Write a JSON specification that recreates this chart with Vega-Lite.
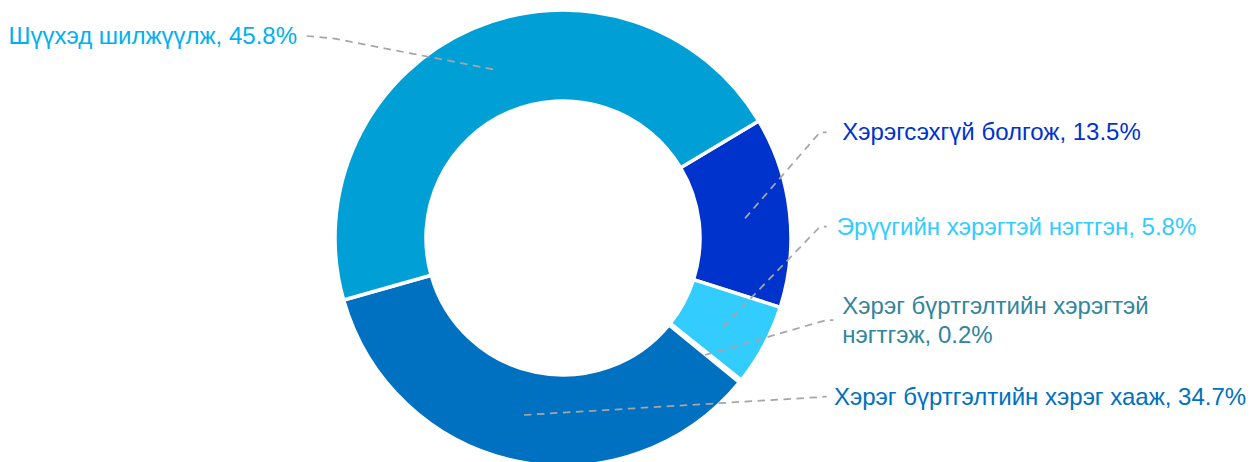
{
  "$schema": "https://vega.github.io/schema/vega-lite/v6.json",
  "width": 1258,
  "height": 462,
  "autosize": {"type": "none"},
  "padding": 0,
  "background": "white",
  "config": {"view": {"stroke": null}},
  "datasets": {
    "shares": [
      {"idx": 1, "category": "Хэрэгсэхгүй болгож", "value": 13.5},
      {"idx": 2, "category": "Эрүүгийн хэрэгтэй нэгтгэн", "value": 5.8},
      {"idx": 3, "category": "Хэрэг бүртгэлтийн хэрэгтэй нэгтгэж", "value": 0.2},
      {"idx": 4, "category": "Хэрэг бүртгэлтийн хэрэг хааж", "value": 34.7},
      {"idx": 5, "category": "Шүүхэд шилжүүлж", "value": 45.8}
    ],
    "labels": [
      {"category": "Шүүхэд шилжүүлж", "label": "Шүүхэд шилжүүлж, 45.8%", "side": "left", "lx": -266, "ly": 200.7},
      {"category": "Хэрэгсэхгүй болгож", "label": "Хэрэгсэхгүй болгож, 13.5%", "side": "right", "lx": 279.3, "ly": 104.7},
      {"category": "Эрүүгийн хэрэгтэй нэгтгэн", "label": "Эрүүгийн хэрэгтэй нэгтгэн, 5.8%", "side": "right", "lx": 273.7, "ly": 9.7},
      {"category": "Хэрэг бүртгэлтийн хэрэгтэй нэгтгэж", "label": "Хэрэг бүртгэлтийн хэрэгтэй\nнэгтгэж, 0.2%", "side": "right", "lx": 279.3, "ly": -68.7},
      {"category": "Хэрэг бүртгэлтийн хэрэг хааж", "label": "Хэрэг бүртгэлтийн хэрэг хааж, 34.7%", "side": "right", "lx": 271, "ly": -160.3}
    ],
    "leaders": [
      {"category": "Шүүхэд шилжүүлж", "pt": 1, "lx": -70, "ly": 168.7},
      {"category": "Шүүхэд шилжүүлж", "pt": 2, "lx": -230, "ly": 199.7},
      {"category": "Шүүхэд шилжүүлж", "pt": 3, "lx": -256.3, "ly": 202},
      {"category": "Хэрэгсэхгүй болгож", "pt": 1, "lx": 182, "ly": 19.7},
      {"category": "Хэрэгсэхгүй болгож", "pt": 2, "lx": 257, "ly": 105.7},
      {"category": "Хэрэгсэхгүй болгож", "pt": 3, "lx": 263.7, "ly": 105.7},
      {"category": "Эрүүгийн хэрэгтэй нэгтгэн", "pt": 1, "lx": 160.3, "ly": -88.7},
      {"category": "Эрүүгийн хэрэгтэй нэгтгэн", "pt": 2, "lx": 257, "ly": 11.3},
      {"category": "Эрүүгийн хэрэгтэй нэгтгэн", "pt": 3, "lx": 263.7, "ly": 11.3},
      {"category": "Хэрэг бүртгэлтийн хэрэгтэй нэгтгэж", "pt": 1, "lx": 142, "ly": -117},
      {"category": "Хэрэг бүртгэлтийн хэрэгтэй нэгтгэж", "pt": 2, "lx": 263.7, "ly": -82},
      {"category": "Хэрэг бүртгэлтийн хэрэгтэй нэгтгэж", "pt": 3, "lx": 270.3, "ly": -82},
      {"category": "Хэрэг бүртгэлтийн хэрэг хааж", "pt": 1, "lx": -39, "ly": -177},
      {"category": "Хэрэг бүртгэлтийн хэрэг хааж", "pt": 2, "lx": 263.7, "ly": -158.7}
    ]
  },
  "layer": [
    {
      "data": {"name": "shares"},
      "mark": {"type": "arc", "outerRadius": 228, "innerRadius": 137, "stroke": "white", "strokeWidth": 3.5},
      "encoding": {
        "x": {"datum": 0, "type": "quantitative", "scale": {"domain": [-563, 695], "nice": false, "zero": false}, "axis": null},
        "y": {"datum": 0, "type": "quantitative", "scale": {"domain": [-224, 238], "nice": false, "zero": false}, "axis": null},
        "theta": {"field": "value", "type": "quantitative", "stack": true, "scale": {"range": [1.0315, 7.3147]}},
        "order": {"field": "idx", "type": "quantitative"},
        "color": {
          "field": "category", "type": "nominal", "legend": null,
          "scale": {
            "domain": ["Хэрэгсэхгүй болгож", "Эрүүгийн хэрэгтэй нэгтгэн", "Хэрэг бүртгэлтийн хэрэгтэй нэгтгэж", "Хэрэг бүртгэлтийн хэрэг хааж", "Шүүхэд шилжүүлж"],
            "range": ["#0033CC", "#33CCFF", "#31859C", "#0070C0", "#00A0D6"]
          }
        }
      }
    },
    {
      "data": {"name": "leaders"},
      "mark": {"type": "line", "stroke": "#A6A6A6", "strokeWidth": 1.75, "strokeDash": [7.5, 5.5], "interpolate": "linear"},
      "encoding": {
        "x": {"field": "lx", "type": "quantitative", "axis": null},
        "y": {"field": "ly", "type": "quantitative", "axis": null},
        "detail": {"field": "category", "type": "nominal"},
        "order": {"field": "pt", "type": "quantitative"}
      }
    },
    {
      "data": {"name": "labels"},
      "transform": [{"filter": "datum.side === 'left'"}],
      "mark": {"type": "text", "align": "right", "baseline": "middle", "font": "Liberation Sans", "fontSize": 24},
      "encoding": {
        "x": {"field": "lx", "type": "quantitative", "axis": null},
        "y": {"field": "ly", "type": "quantitative", "axis": null},
        "text": {"field": "label"},
        "color": {
          "field": "category", "type": "nominal", "legend": null,
          "scale": {
            "domain": ["Хэрэгсэхгүй болгож", "Эрүүгийн хэрэгтэй нэгтгэн", "Хэрэг бүртгэлтийн хэрэгтэй нэгтгэж", "Хэрэг бүртгэлтийн хэрэг хааж", "Шүүхэд шилжүүлж"],
            "range": ["#0033CC", "#33CCFF", "#31859C", "#0070C0", "#00B0F0"]
          }
        }
      }
    },
    {
      "data": {"name": "labels"},
      "transform": [{"filter": "datum.side === 'right'"}],
      "mark": {"type": "text", "align": "left", "baseline": "middle", "font": "Liberation Sans", "fontSize": 24, "lineBreak": "\n", "lineHeight": 29.5},
      "encoding": {
        "x": {"field": "lx", "type": "quantitative", "axis": null},
        "y": {"field": "ly", "type": "quantitative", "axis": null},
        "text": {"field": "label"},
        "color": {
          "field": "category", "type": "nominal", "legend": null,
          "scale": {
            "domain": ["Хэрэгсэхгүй болгож", "Эрүүгийн хэрэгтэй нэгтгэн", "Хэрэг бүртгэлтийн хэрэгтэй нэгтгэж", "Хэрэг бүртгэлтийн хэрэг хааж", "Шүүхэд шилжүүлж"],
            "range": ["#0033CC", "#33CCFF", "#31859C", "#0070C0", "#00B0F0"]
          }
        }
      }
    }
  ],
  "resolve": {"scale": {"color": "independent"}}
}
